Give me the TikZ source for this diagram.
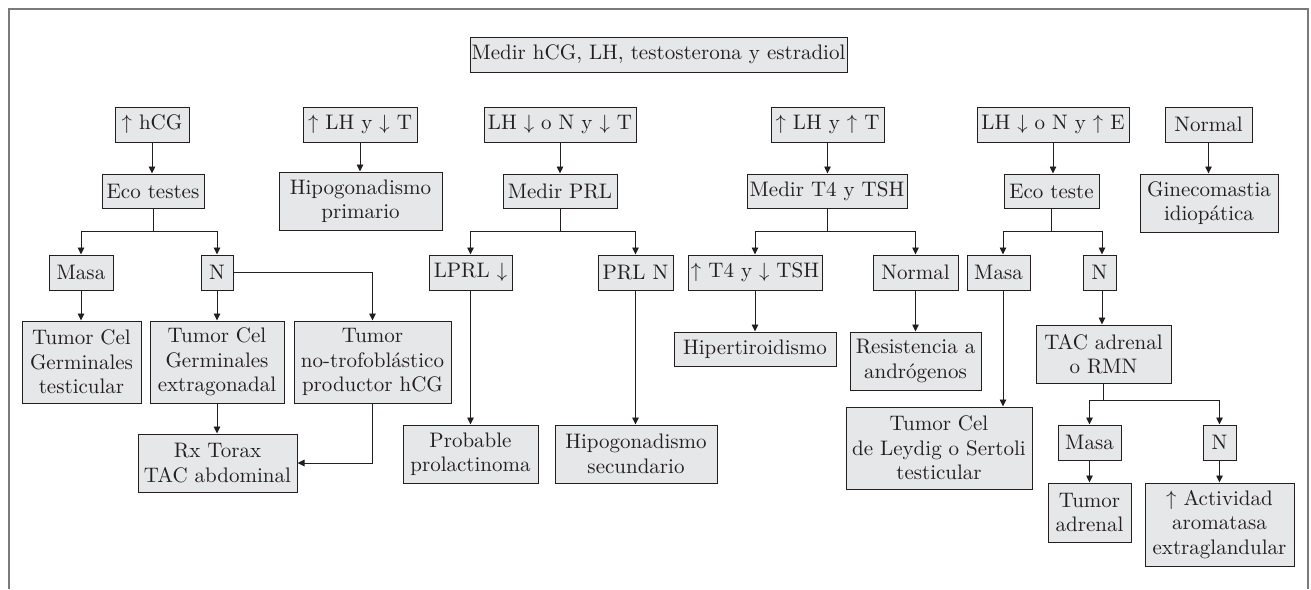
\documentclass[tikz,border=0pt]{standalone}
\usepackage{fontspec}
\setmainfont{lmroman10-regular}[Extension=.otf]
\usetikzlibrary{arrows.meta}
\definecolor{boxfill}{HTML}{E6E7E8}
\definecolor{ink}{HTML}{231F20}
\definecolor{framegray}{HTML}{7A7A7A}
\newcommand{\boxfont}{\fontsize{21}{24.5}\selectfont}
\tikzset{
  bx/.style={draw=ink, line width=1pt, fill=boxfill, inner sep=0pt, align=center,
    text=ink, font=\boxfont},
  arr/.style={draw=ink, line width=0.9pt, -{Triangle[length=7pt,width=6.5pt]}},
  ln/.style={draw=ink, line width=0.9pt},
}
\begin{document}
\begin{tikzpicture}[x=1pt,y=-1pt]
\useasboundingbox (0,0) rectangle (1311,589);
% frame
\draw[framegray, line width=1.3pt] (9,589) -- (9,9) -- (1308,9) -- (1308,589);

% top
\node[bx, minimum width=377pt, minimum height=35pt] (top) at (658.5,54.5) {Medir hCG, LH, testosterona y estradiol};

% row 1
\node[bx, minimum width=74pt, minimum height=35pt] (hcg) at (152,124.5) {$\uparrow$ hCG};
\node[bx, minimum width=114pt, minimum height=35pt] (lhT) at (360,124.5) {$\uparrow$ LH y $\downarrow$ T};
\node[bx, minimum width=152pt, minimum height=35pt] (lhNT) at (560,124.5) {LH $\downarrow$ o N y $\downarrow$ T};
\node[bx, minimum width=113pt, minimum height=35pt] (lhTT) at (827.5,124.5) {$\uparrow$ LH y $\uparrow$ T};
\node[bx, minimum width=152pt, minimum height=35pt] (lhNE) at (1053,124.5) {LH $\downarrow$ o N y $\uparrow$ E};
\node[bx, minimum width=87pt, minimum height=35pt] (norm1) at (1208.5,124.5) {Normal};

% row 2
\node[bx, minimum width=102pt, minimum height=34pt] (eco1) at (153,191) {Eco testes};
\node[bx, minimum width=163pt, minimum height=58pt] (hipo1) at (360.5,201) {Hipogonadismo\\primario};
\node[bx, minimum width=114pt, minimum height=34pt] (prl) at (560,191) {Medir PRL};
\node[bx, minimum width=160pt, minimum height=34pt] (t4) at (827,191) {Medir T4 y TSH};
\node[bx, minimum width=95pt, minimum height=34pt] (eco2) at (1051.5,191) {Eco teste};
\node[bx, minimum width=138pt, minimum height=58pt] (gine) at (1209,203) {Ginecomastia\\idiopática};

% row 3
\node[bx, minimum width=64pt, minimum height=35pt] (masa1) at (81,272.5) {Masa};
\node[bx, minimum width=32pt, minimum height=35pt] (n1) at (217,272.5) {N};
\node[bx, minimum width=83pt, minimum height=35pt] (lprl) at (470.5,272.5) {LPRL $\downarrow$};
\node[bx, minimum width=75pt, minimum height=35pt] (prln) at (635.5,272.5) {PRL N};
\node[bx, minimum width=134pt, minimum height=35pt] (t4tsh) at (755,272.5) {$\uparrow$ T4 y $\downarrow$ TSH};
\node[bx, minimum width=85pt, minimum height=35pt] (norm2) at (915.5,272.5) {Normal};
\node[bx, minimum width=63pt, minimum height=35pt] (masa2) at (998.5,272.5) {Masa};
\node[bx, minimum width=33pt, minimum height=35pt] (n2) at (1099.5,272.5) {N};

% row 4 and below
\node[bx, minimum width=119pt, minimum height=82pt] (tcgt) at (81.5,362) {Tumor Cel\\Germinales\\testicular};
\node[bx, minimum width=134pt, minimum height=82pt] (tcge) at (217,362) {Tumor Cel\\Germinales\\extragonadal};
\node[bx, minimum width=157pt, minimum height=82pt] (tnt) at (372.5,362) {Tumor\\no-trofoblástico\\productor hCG};
\node[bx, minimum width=159pt, minimum height=58pt] (rx) at (217.5,463) {Rx Torax\\TAC abdominal};
\node[bx, minimum width=135pt, minimum height=58pt] (prob) at (470.5,454) {Probable\\prolactinoma};
\node[bx, minimum width=162pt, minimum height=58pt] (hipo2) at (636,454) {Hipogonadismo\\secundario};
\node[bx, minimum width=162pt, minimum height=34pt] (hiper) at (755,349) {Hipertiroidismo};
\node[bx, minimum width=131pt, minimum height=58pt] (resis) at (915.5,361) {Resistencia a\\andrógenos};
\node[bx, minimum width=186pt, minimum height=82pt] (leydig) at (939,448) {Tumor Cel\\de Leydig o Sertoli\\testicular};
\node[bx, minimum width=135pt, minimum height=58pt] (tac) at (1103.5,354) {TAC adrenal\\o RMN};
\node[bx, minimum width=63pt, minimum height=35pt] (masa3) at (1089.5,442.5) {Masa};
\node[bx, minimum width=33pt, minimum height=35pt] (n3) at (1219.5,442.5) {N};
\node[bx, minimum width=83pt, minimum height=59pt] (tumad) at (1089.5,512.5) {Tumor\\adrenal};
\node[bx, minimum width=149pt, minimum height=83pt] (activ) at (1219.5,524.5) {$\uparrow$ Actividad\\aromatasa\\extraglandular};

% branch coordinates
\coordinate (b1) at (153,231);
\coordinate (b2) at (560,231);
\coordinate (b3) at (827,231);
\coordinate (b4) at (1051.5,231);
\coordinate (b5) at (1103.5,400);

% row1 -> row2
\draw[arr] (hcg.south) -- (hcg.south |- eco1.north);
\draw[arr] (lhT.south) -- (lhT.south |- hipo1.north);
\draw[arr] (lhNT.south) -- (lhNT.south |- prl.north);
\draw[arr] (lhTT.south) -- (lhTT.south |- t4.north);
\draw[arr] (lhNE.south) -- (lhNE.south |- eco2.north);
\draw[arr] (norm1.south) -- (norm1.south |- gine.north);

% branches
\draw[ln] (eco1.south) -- (b1);
\draw[arr] (b1) -| (masa1.north);
\draw[arr] (b1) -| (n1.north);
\draw[ln] (prl.south) -- (b2);
\draw[arr] (b2) -| (lprl.north);
\draw[arr] (b2) -| (prln.north);
\draw[ln] (t4.south) -- (b3);
\draw[arr] (b3) -| (t4tsh.north);
\draw[arr] (b3) -| (norm2.north);
\draw[ln] (eco2.south) -- (b4);
\draw[arr] (b4) -| ([xshift=4.5pt]masa2.north);
\draw[arr] (b4) -| ([xshift=2.5pt]n2.north);

% left column
\draw[arr] (masa1.south) -- (masa1.south |- tcgt.north);
\draw[arr] (n1.south) -- (n1.south |- tcge.north);
\draw[arr] (n1.east) -| (tnt.north);
\draw[arr] (tcge.south) -- (tcge.south |- rx.north);
\draw[arr] (tnt.south) |- (rx.east);

% middle
\draw[arr] (lprl.south) -- (lprl.south |- prob.north);
\draw[arr] (prln.south) -- (prln.south |- hipo2.north);
\draw[arr] (t4tsh.south) -- (t4tsh.south |- hiper.north);
\draw[arr] (norm2.south) -- (norm2.south |- resis.north);

% right
\draw[arr] ([xshift=4.5pt]masa2.south) -- ([xshift=4.5pt]masa2.south |- leydig.north);
\draw[arr] ([xshift=2.5pt]n2.south) -- ([xshift=2.5pt]n2.south |- tac.north);
\draw[ln] (tac.south) -- (b5);
\draw[arr] (b5) -| (masa3.north);
\draw[arr] (b5) -| (n3.north);
\draw[arr] (masa3.south) -- (masa3.south |- tumad.north);
\draw[arr] (n3.south) -- (n3.south |- activ.north);
\end{tikzpicture}
\end{document}
